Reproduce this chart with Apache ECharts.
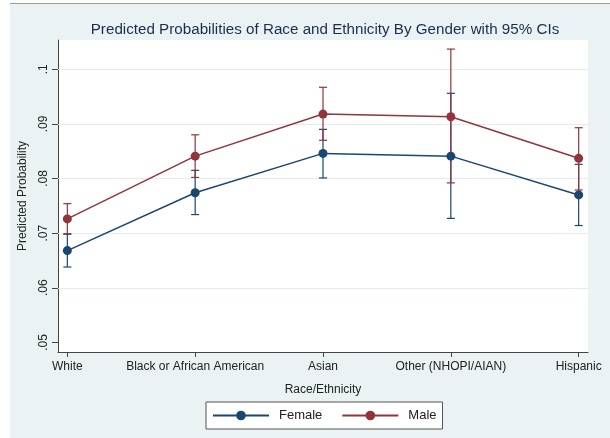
<!DOCTYPE html>
<html>
<head>
<meta charset="utf-8">
<script src="https://cdn.jsdelivr.net/npm/echarts@6/dist/echarts.min.js"></script>
<style>
  html, body { margin: 0; padding: 0; background: #ffffff; }
  #chart { width: 610px; height: 438px; }
</style>
</head>
<body>
<div id="chart"></div>
<script>
// Race/ethnicity categories on the x axis
const categories = ['White', 'Black or African American', 'Asian', 'Other (NHOPI/AIAN)', 'Hispanic'];

// Predicted probabilities with 95% confidence bounds
const female   = [0.0668, 0.0774, 0.0846, 0.0841, 0.0770];
const femaleLo = [0.0638, 0.0734, 0.0801, 0.0727, 0.0714];
const femaleHi = [0.0698, 0.0815, 0.0890, 0.0956, 0.0826];

const male   = [0.0726, 0.0841, 0.0918, 0.0913, 0.0837];
const maleLo = [0.0699, 0.0802, 0.0870, 0.0792, 0.0779];
const maleHi = [0.0754, 0.0880, 0.0967, 0.1037, 0.0893];

// y-axis tick values and their labels
const yTicks = [0.05, 0.06, 0.07, 0.08, 0.09, 0.1];
const yTickLabels = ['.05', '.06', '.07', '.08', '.09', '.1'];
const gridTicks = [0.06, 0.07, 0.08, 0.09, 0.1];

const NAVY = '#1a476f';
const MAROON = '#90353b';
const FONT = 'Liberation Sans';

function errorBars(lo, hi, color) {
  return {
    type: 'custom',
    data: lo.map((l, i) => [i, l, hi[i]]),
    encode: { x: 0, y: [1, 2] },
    z: 2,
    silent: true,
    renderItem(params, api) {
      const x = api.value(0);
      const pLo = api.coord([x, api.value(1)]);
      const pHi = api.coord([x, api.value(2)]);
      const w = 4;
      const style = { stroke: color, lineWidth: 1.2 };
      return {
        type: 'group',
        children: [
          { type: 'line', shape: { x1: pLo[0], y1: pLo[1], x2: pHi[0], y2: pHi[1] }, style },
          { type: 'line', shape: { x1: pLo[0] - w, y1: pLo[1], x2: pLo[0] + w, y2: pLo[1] }, style },
          { type: 'line', shape: { x1: pHi[0] - w, y1: pHi[1], x2: pHi[0] + w, y2: pHi[1] }, style }
        ]
      };
    }
  };
}

function lineSeries(name, values, color) {
  return {
    type: 'line',
    name: name,
    data: values.map((v, i) => [i, v]),
    symbol: 'circle',
    symbolSize: 9,
    z: 3,
    lineStyle: { color: color, width: 1.5 },
    itemStyle: { color: color },
    emphasis: { disabled: true }
  };
}

const chart = echarts.init(document.getElementById('chart'), null, { renderer: 'canvas' });

chart.setOption({
  animation: false,
  backgroundColor: '#eaf2f3',
  textStyle: { fontFamily: FONT },
  title: {
    text: 'Predicted Probabilities of Race and Ethnicity By Gender with 95% CIs',
    left: 320,
    top: 17,
    textAlign: 'center',
    textStyle: { fontFamily: FONT, fontSize: 15.2, fontWeight: 'normal', color: '#1e2b4f' }
  },
  graphic: [
    { type: 'rect', shape: { x: 0, y: 0, width: 10, height: 438 }, style: { fill: '#ffffff' }, silent: true },
    { type: 'rect', shape: { x: 0, y: 0, width: 610, height: 3 }, style: { fill: '#ffffff' }, silent: true },
    { type: 'line', shape: { x1: 10, y1: 3.5, x2: 610, y2: 3.5 }, style: { stroke: '#9a9a9a', lineWidth: 1 }, silent: true }
  ],
  grid: {
    left: 58, right: 22, top: 40, bottom: 86,
    show: true, backgroundColor: '#ffffff', borderWidth: 0
  },
  legend: {
    data: ['Female', 'Male'],
    left: 206,
    top: 402,
    itemWidth: 56,
    itemHeight: 12,
    itemGap: 19,
    padding: [7, 6, 7, 6],
    backgroundColor: '#ffffff',
    borderColor: '#555555',
    borderWidth: 1,
    borderRadius: 0,
    selectedMode: false,
    textStyle: { fontFamily: FONT, fontSize: 13, color: '#222', padding: [0, 0, 0, 5] }
  },
  xAxis: {
    type: 'value',
    min: -0.073,
    max: 4.073,
    name: 'Race/Ethnicity',
    nameLocation: 'middle',
    nameGap: 32,
    nameTextStyle: { fontFamily: FONT, fontSize: 12, color: '#222' },
    axisLine: { show: true, onZero: false, lineStyle: { color: '#444', width: 1 } },
    axisTick: { show: true, length: 5, customValues: categories.map((c, i) => i), lineStyle: { color: '#444' } },
    axisLabel: {
      customValues: categories.map((c, i) => i),
      formatter: v => categories[Math.round(v)],
      fontFamily: FONT, fontSize: 12, color: '#222', margin: 9
    },
    splitLine: { show: false }
  },
  yAxis: {
    type: 'value',
    min: 0.04824,
    max: 0.10536,
    name: 'Predicted Probability',
    nameLocation: 'middle',
    nameGap: 29,
    nameTextStyle: { fontFamily: FONT, fontSize: 12, color: '#222' },
    axisLine: { show: true, onZero: false, lineStyle: { color: '#444', width: 1 } },
    axisTick: { show: true, length: 6, customValues: yTicks, lineStyle: { color: '#444' } },
    axisLabel: {
      customValues: yTicks,
      rotate: 90,
      formatter: v => yTickLabels[yTicks.findIndex(t => Math.abs(t - v) < 1e-9)],
      fontFamily: FONT, fontSize: 12, color: '#222', margin: 8
    },
    splitLine: { show: false }
  },
  series: [
    {
      type: 'line',
      data: [],
      z: 1,
      silent: true,
      markLine: {
        z: 1,
        silent: true,
        symbol: 'none',
        label: { show: false },
        lineStyle: { color: '#e3edf0', width: 1, type: 'solid' },
        data: gridTicks.map(v => ({ yAxis: v }))
      }
    },
    errorBars(femaleLo, femaleHi, NAVY),
    errorBars(maleLo, maleHi, MAROON),
    lineSeries('Female', female, NAVY),
    lineSeries('Male', male, MAROON)
  ]
});
</script>
</body>
</html>
